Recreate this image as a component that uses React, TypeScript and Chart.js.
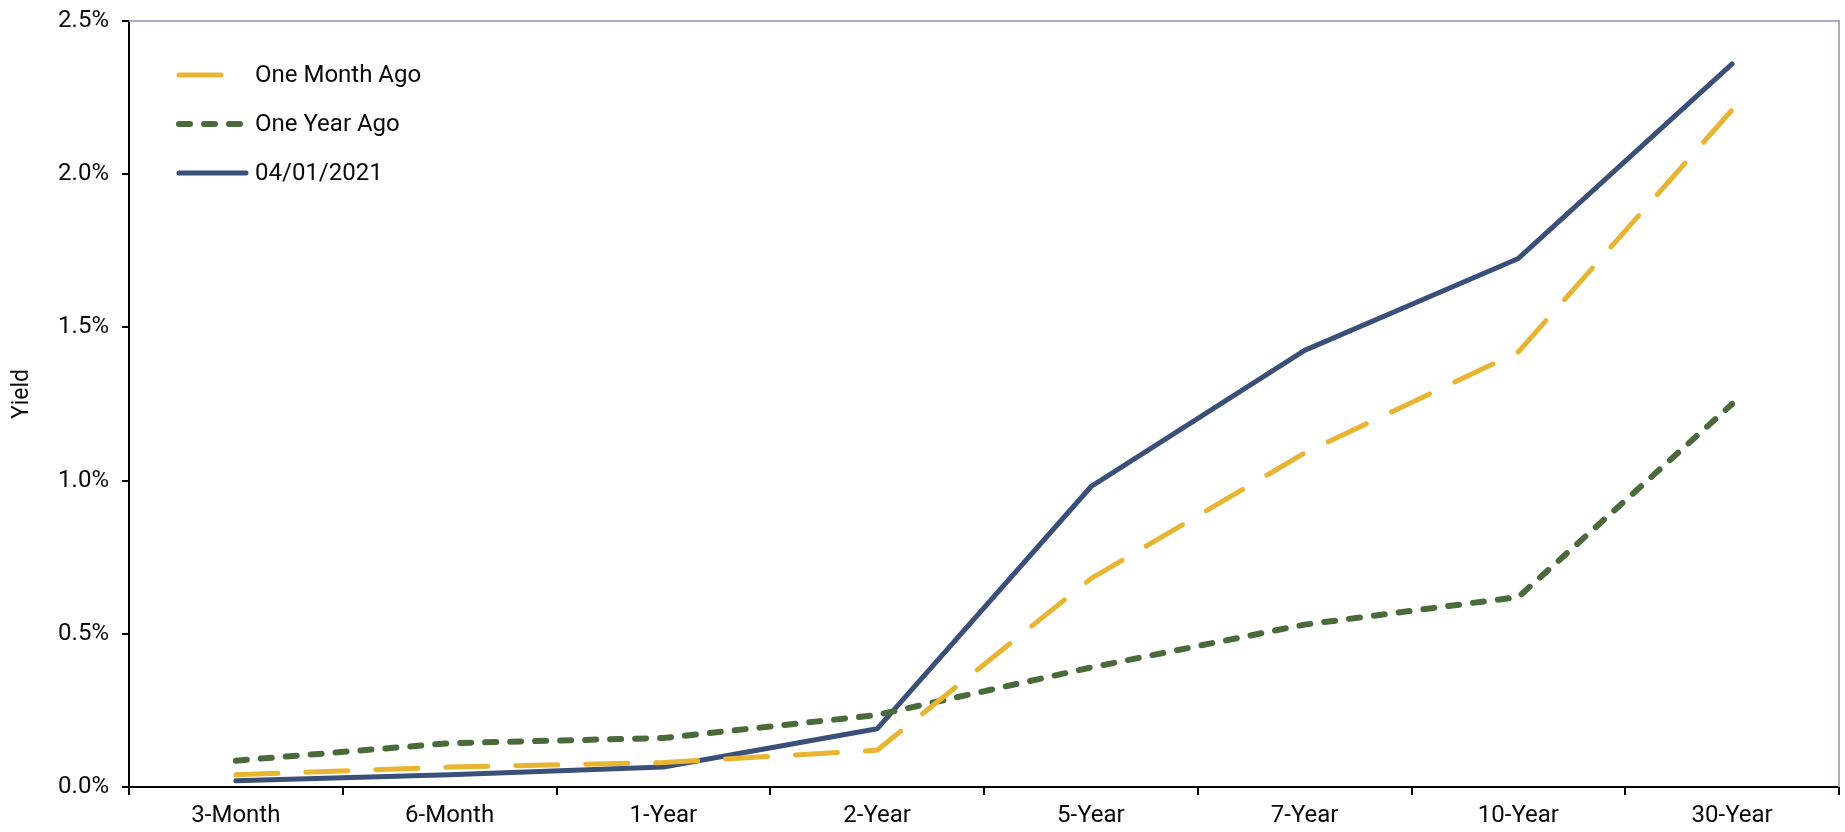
import React, { useEffect, useRef } from "react";
import { Chart, registerables } from "chart.js";

Chart.register(...registerables);

// Treasury maturities on the x axis
const maturities = ["3-Month", "6-Month", "1-Year", "2-Year", "5-Year", "7-Year", "10-Year", "30-Year"];

// Yields in percent
const oneMonthAgo = [0.04, 0.065, 0.08, 0.12, 0.68, 1.09, 1.42, 2.21];
const oneYearAgo = [0.086, 0.143, 0.16, 0.235, 0.39, 0.53, 0.62, 1.25];
const latest = [0.02, 0.04, 0.065, 0.19, 0.98, 1.425, 1.725, 2.36];

const seriesLabels = ["One Month Ago", "One Year Ago", "04/01/2021"];
const yAxisTitle = "Yield";
const yTickStep = 0.5;
const yMax = 2.5;

const FONT = "Roboto";
const TEXT = "#0a0a0a";
const BLUE = "#3A5078";
const GOLD = "#E8B532";
const GREEN = "#4B6A3B";
const FRAME = "#A3AEC0";

// Top and right frame lines in a soft slate tone, short outward ticks on the
// value axis, and the rotated value-axis title
const framePlugin = {
  id: "frame",
  afterDraw(chart: any) {
    const { ctx, chartArea } = chart;
    ctx.save();
    ctx.strokeStyle = FRAME;
    ctx.lineWidth = 2;
    ctx.beginPath();
    ctx.moveTo(chartArea.left, chartArea.top);
    ctx.lineTo(chartArea.right, chartArea.top);
    ctx.lineTo(chartArea.right, chartArea.bottom);
    ctx.stroke();

    const y = chart.scales.y;
    ctx.strokeStyle = "#000000";
    ctx.lineWidth = 2;
    y.ticks.forEach((t: any) => {
      const py = Math.round(y.getPixelForValue(t.value));
      ctx.beginPath();
      ctx.moveTo(chartArea.left - 7, py);
      ctx.lineTo(chartArea.left, py);
      ctx.stroke();
    });

    const midY = (chartArea.top + chartArea.bottom) / 2 - 10;
    ctx.translate(22, midY);
    ctx.rotate(-Math.PI / 2);
    ctx.fillStyle = TEXT;
    ctx.font = `23px ${FONT}`;
    ctx.textAlign = "center";
    ctx.textBaseline = "middle";
    ctx.fillText(yAxisTitle, 0, 0);
    ctx.restore();
  },
};

// Legend drawn inside the plot, top-left, using each dataset's own stroke style
const insideLegend = {
  id: "insideLegend",
  afterDraw(chart: any) {
    const { ctx, chartArea } = chart;
    const x0 = chartArea.left + 48;
    const sampleLen = 71;
    const y0 = chartArea.top + 54;
    const rowGap = 49;
    ctx.save();
    chart.data.datasets.forEach((ds: any, i: number) => {
      const y = y0 + i * rowGap;
      ctx.strokeStyle = ds.borderColor;
      ctx.lineWidth = ds.borderWidth;
      ctx.lineCap = "round";
      ctx.setLineDash(ds.borderDash || []);
      ctx.beginPath();
      ctx.moveTo(x0 + 2, y);
      ctx.lineTo(x0 + sampleLen - 2, y);
      ctx.stroke();
      ctx.setLineDash([]);
      ctx.fillStyle = TEXT;
      ctx.font = `24px ${FONT}`;
      ctx.textBaseline = "middle";
      ctx.textAlign = "left";
      ctx.fillText(ds.label, x0 + sampleLen + 7, y + 1);
    });
    ctx.restore();
  },
};

export default function App() {
  const canvasRef = useRef<HTMLCanvasElement | null>(null);

  useEffect(() => {
    document.body.style.margin = "0";
    const canvas = canvasRef.current;
    if (!canvas) return;
    const chart = new Chart(canvas, {
      type: "line",
      data: {
        labels: maturities,
        datasets: [
          {
            label: seriesLabels[0],
            data: oneMonthAgo,
            borderColor: GOLD,
            borderWidth: 5,
            borderDash: [42, 28],
            borderCapStyle: "round",
            borderJoinStyle: "round",
            pointRadius: 0,
            tension: 0,
            fill: false,
          },
          {
            label: seriesLabels[1],
            data: oneYearAgo,
            borderColor: GREEN,
            borderWidth: 6,
            borderDash: [11, 14],
            borderCapStyle: "round",
            borderJoinStyle: "round",
            pointRadius: 0,
            tension: 0,
            fill: false,
          },
          {
            label: seriesLabels[2],
            data: latest,
            borderColor: BLUE,
            borderWidth: 5,
            borderCapStyle: "round",
            borderJoinStyle: "round",
            pointRadius: 0,
            tension: 0,
            fill: false,
          },
        ],
      },
      options: {
        animation: false,
        responsive: false,
        devicePixelRatio: 1,
        layout: { padding: { top: 21, right: 6, left: 0, bottom: 0 } },
        plugins: {
          legend: { display: false },
          tooltip: { enabled: false },
        },
        scales: {
          x: {
            type: "category",
            offset: true,
            grid: {
              offset: true,
              drawOnChartArea: false,
              drawTicks: true,
              tickLength: 8,
              color: "#000000",
              lineWidth: 2,
            },
            border: { display: true, color: "#000000", width: 2 },
            ticks: {
              color: TEXT,
              font: { family: FONT, size: 24 },
              padding: 7,
              maxRotation: 0,
              autoSkip: false,
            },
            afterFit(scale: any) {
              scale.height = 45;
            },
          },
          y: {
            min: 0,
            max: yMax,
            grid: {
              drawOnChartArea: false,
              drawTicks: true,
              tickLength: 20,
              tickColor: "rgba(0,0,0,0)",
              lineWidth: 2,
            },
            border: { display: true, color: "#000000", width: 2 },
            ticks: {
              stepSize: yTickStep,
              color: TEXT,
              font: { family: FONT, size: 24 },
              padding: 0,
              callback: (v: any) => Number(v).toFixed(1) + "%",
            },
            afterFit(scale: any) {
              scale.width = 129;
            },
          },
        },
      },
      plugins: [framePlugin, insideLegend],
    } as any);
    return () => chart.destroy();
  }, []);

  return (
    <div style={{ position: "absolute", left: 0, top: 0, width: 1845, height: 832, background: "#ffffff" }}>
      <canvas ref={canvasRef} width={1845} height={832} style={{ display: "block", width: 1845, height: 832 }} />
    </div>
  );
}
